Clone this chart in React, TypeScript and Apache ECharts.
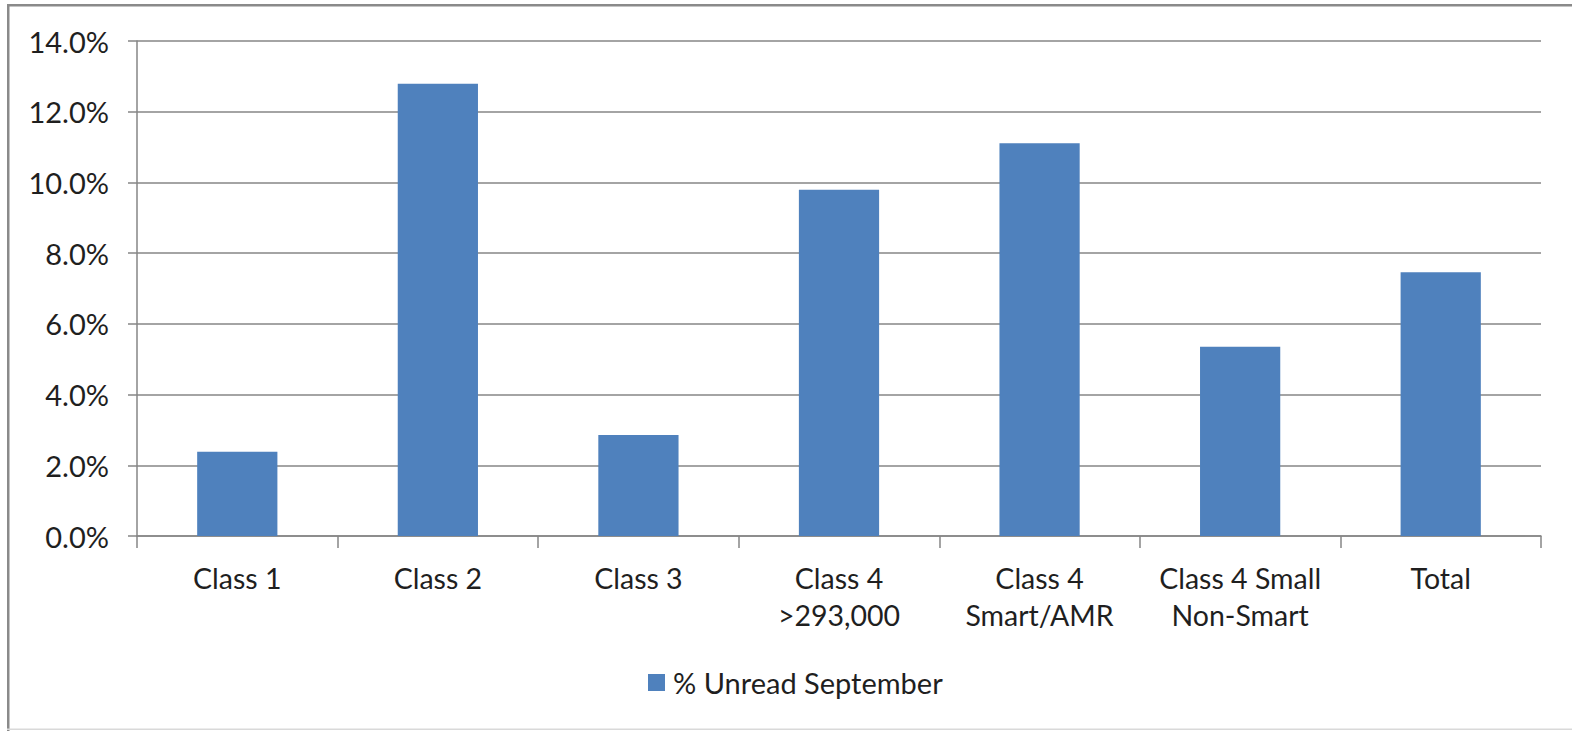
import React, { useEffect, useRef } from "react";
import * as echarts from "echarts";

const categories = [
  "Class 1",
  "Class 2",
  "Class 3",
  "Class 4\n>293,000",
  "Class 4\nSmart/AMR",
  "Class 4 Small\nNon-Smart",
  "Total",
];
const unreadSeptember = [2.38, 12.79, 2.86, 9.79, 11.11, 5.35, 7.46];
const seriesName = "% Unread September";
const yTicks = { min: 0, max: 14, interval: 2 };

export default function App() {
  const ref = useRef<HTMLDivElement>(null);
  useEffect(() => {
    const chart = echarts.init(ref.current!, null, { renderer: "svg" });
    const font = "Lato, Open Sans, sans-serif";
    const textColor = "#1f1f1f";
    chart.setOption({
      animation: false,
      backgroundColor: "#ffffff",
      textStyle: { fontFamily: font },
      grid: { left: 137, right: 31, top: 41, bottom: 195, containLabel: false },
      legend: {
        bottom: 29,
        left: 643,
        itemWidth: 17,
        itemHeight: 17,
        icon: "rect",
        itemGap: 10,
        textStyle: { fontSize: 29, color: textColor, fontFamily: font, padding: [0, 0, 0, 3] },
        data: [seriesName],
      },
      xAxis: {
        type: "category",
        data: categories,
        axisLine: { show: true, lineStyle: { color: "#868686", width: 1.5 } },
        axisTick: { show: true, length: 12, lineStyle: { color: "#868686", width: 1.5 } },
        axisLabel: {
          fontSize: 28.5,
          color: textColor,
          margin: 23,
          lineHeight: 37,
          interval: 0,
          fontFamily: font,
        },
      },
      yAxis: {
        type: "value",
        min: yTicks.min,
        max: yTicks.max,
        interval: yTicks.interval,
        axisLine: { show: true, lineStyle: { color: "#868686", width: 1.5 } },
        axisTick: { show: true, inside: false, length: 9, lineStyle: { color: "#868686", width: 1.5 } },
        splitLine: { show: true, lineStyle: { color: "#868686", width: 1.5 } },
        axisLabel: {
          fontSize: 29,
          color: textColor,
          margin: 28,
          fontFamily: font,
          formatter: (v: number) => v.toFixed(1) + "%",
        },
      },
      series: [
        {
          name: seriesName,
          type: "bar",
          data: unreadSeptember,
          barWidth: "40%",
          itemStyle: { color: "#4f81bd" },
        },
      ],
      graphic: [
        { type: "rect", shape: { x: 7, y: 4, width: 1565, height: 2.5 }, style: { fill: "#8a8a8a" } },
        { type: "rect", shape: { x: 7, y: 4, width: 2.5, height: 727 }, style: { fill: "#8a8a8a" } },
        { type: "rect", shape: { x: 7, y: 728.5, width: 1565, height: 1.5 }, style: { fill: "#d9d9d9" } },
      ],
    });
    return () => chart.dispose();
  }, []);
  return (
    <div
      ref={ref}
      style={{ position: "fixed", left: 0, top: 0, width: 1572, height: 731 }}
    />
  );
}
